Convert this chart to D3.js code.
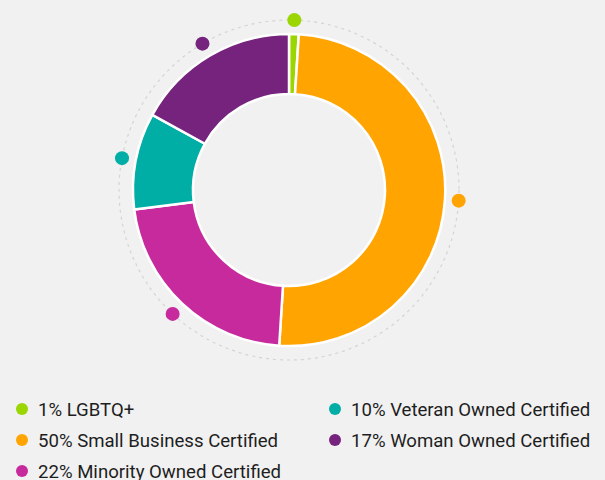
<!DOCTYPE html>
<html>
<head>
<meta charset="utf-8">
<script src="https://cdn.jsdelivr.net/npm/d3@7"></script>
<style>
  body { margin: 0; background: #f1f1f1; }
  svg { display: block; font-family: Roboto, sans-serif; }
</style>
</head>
<body>
<svg id="donut" width="605" height="480"></svg>
<script>
"use strict";

const labels = ["LGBTQ+", "Small Business Certified", "Minority Owned Certified", "Veteran Owned Certified", "Woman Owned Certified"];
const values = [1, 50, 22, 10, 17];
const colors = ["#9bd603", "#ffa400", "#c62a9c", "#00aea5", "#75237d"];
// legend is laid out in two columns, filled top to bottom
const legendOrder = [0, 1, 2, 3, 4];

const width = 605;
const height = 480;
const center = { "x": 289, "y": 190 };
const outerRadius = 156;
const innerRadius = 96;
const dotRing = 170;

const data = labels.map((l, i) => ({ label: l, value: values[i], color: colors[i] }));

const svg = d3.select("svg#donut");
svg.append("rect").attr("width", width).attr("height", height).attr("fill", "#f1f1f1");

const chart = svg.append("g")
    .attr("transform", `translate(${center.x},${center.y})`);

// dotted guide ring
chart.append("circle")
    .attr("r", dotRing)
    .attr("fill", "none")
    .attr("stroke", "#d4d4d4")
    .attr("stroke-width", 1.2)
    .attr("stroke-dasharray", "3,4");

const pie = d3.pie().sort(null).value(d => d.value);
const arc = d3.arc().innerRadius(innerRadius).outerRadius(outerRadius);
const arcs = pie(data);

chart.selectAll("path.slice")
    .data(arcs)
    .enter()
    .append("path")
    .attr("class", "slice")
    .attr("d", arc)
    .attr("fill", d => d.data.color)
    .attr("stroke", "#fff")
    .attr("stroke-width", 2.5)
    .attr("stroke-linejoin", "round");

chart.selectAll("circle.marker")
    .data(arcs)
    .enter()
    .append("circle")
    .attr("class", "marker")
    .attr("cx", d => dotRing * Math.sin((d.startAngle + d.endAngle) / 2))
    .attr("cy", d => -dotRing * Math.cos((d.startAngle + d.endAngle) / 2))
    .attr("r", 7)
    .attr("fill", d => d.data.color);

// legend
const legend = svg.append("g").attr("transform", "translate(22,409)");
const colX = d3.scalePoint().domain([0, 1]).range([0, 313]);
const rowY = d3.scalePoint().domain([0, 1, 2]).range([0, 62]);

const items = legend.selectAll("g.item")
    .data(legendOrder.map(i => data[i]))
    .enter()
    .append("g")
    .attr("class", "item")
    .attr("transform", (d, i) => `translate(${colX(Math.floor(i / 3))},${rowY(i % 3)})`);

items.append("circle")
    .attr("r", 6)
    .attr("fill", d => d.color);

items.append("text")
    .attr("x", 16)
    .attr("dy", "0.36em")
    .attr("fill", "#1e1e1e")
    .style("font-size", "18.6px")
    .text(d => `${d.value}% ${d.label}`);
</script>
</body>
</html>
